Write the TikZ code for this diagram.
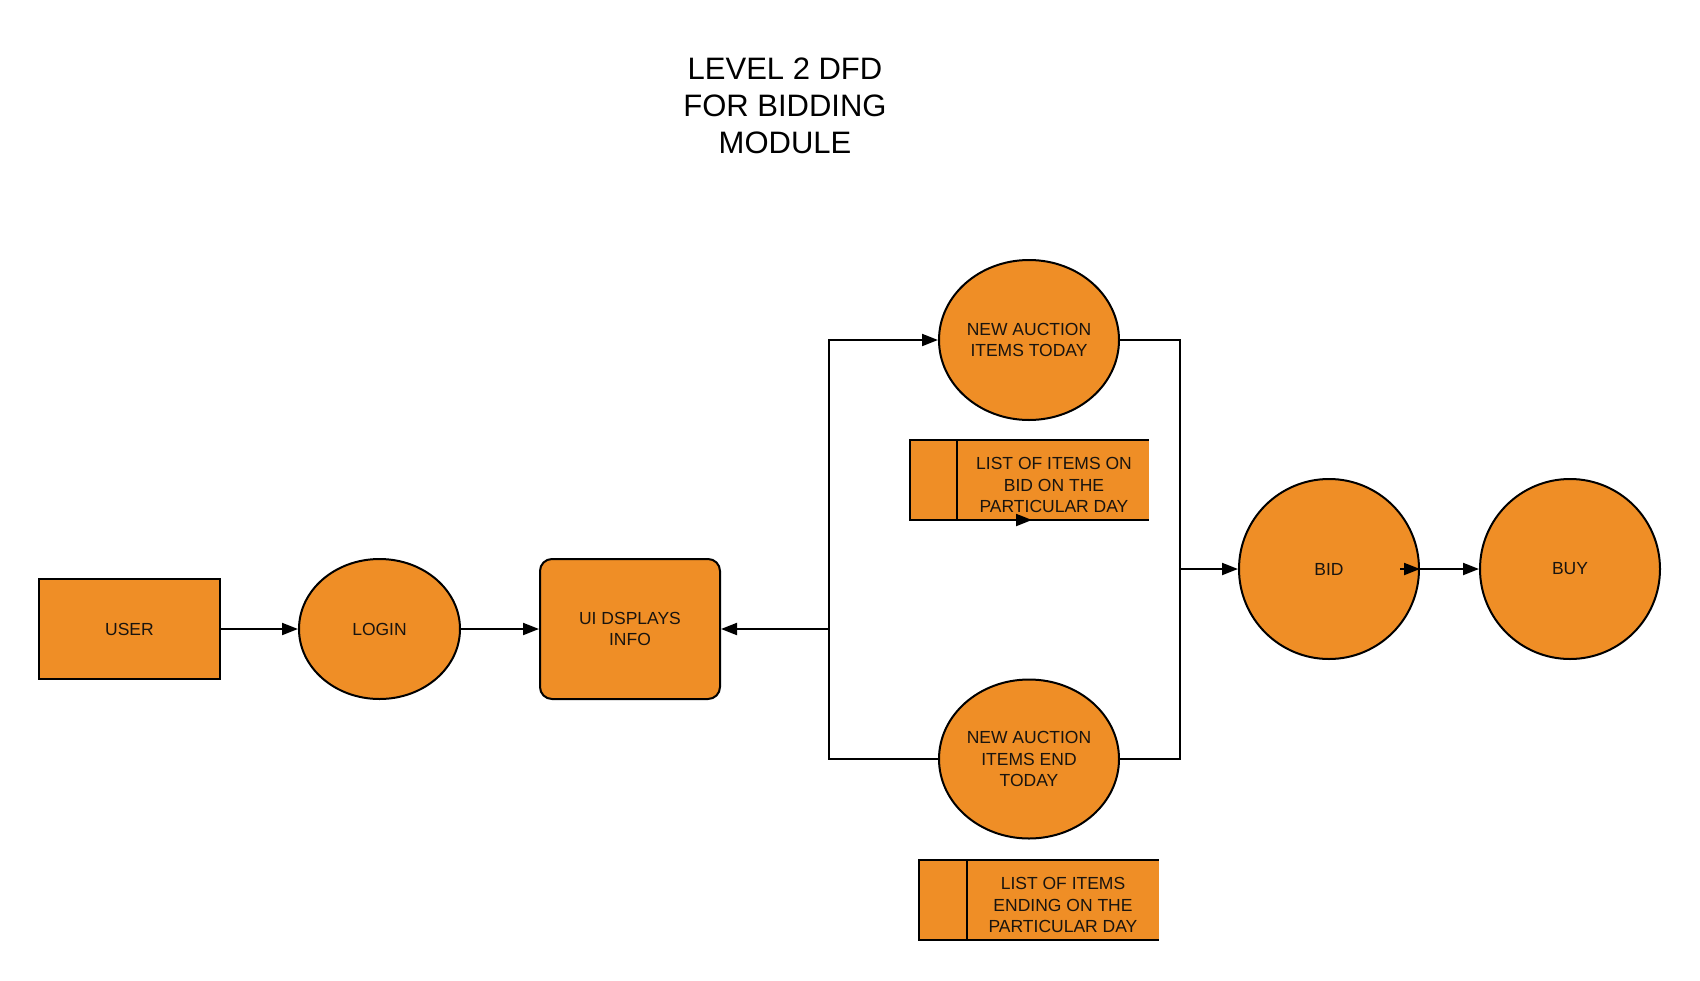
\documentclass[tikz,border=0pt]{standalone}
\usepackage{fontspec}
\setmainfont{Liberation Sans}
\usetikzlibrary{shapes.geometric,arrows.meta}
\definecolor{dfdorange}{RGB}{239,142,38}
\definecolor{dfdtext}{RGB}{25,20,15}
\tikzset{
  base/.style={fill=dfdorange, draw=black, line width=2pt, text=dfdtext, font=\fontsize{17.5}{21.5}\selectfont, align=center, inner sep=0pt},
  entitybox/.style={base, rectangle, minimum width=181pt, minimum height=100pt},
  procbox/.style={base, rectangle, rounded corners=12pt, minimum width=180pt, minimum height=140pt},
  procell/.style={base, ellipse},
  storefill/.style={fill=dfdorange, draw=none, rectangle, inner sep=0pt, minimum width=239pt, minimum height=80pt},
  storeline/.style={draw=black, line width=2pt},
  flow/.style={draw=black, line width=2pt, -{Triangle[length=16pt,width=12pt]}},
  plain/.style={draw=black, line width=2pt},
  label/.style={text=dfdtext, font=\fontsize{17.5}{21.5}\selectfont, align=center, inner sep=0pt},
  titletext/.style={text=black, font=\fontsize{31}{37}\selectfont, align=center, inner sep=0pt}
}
\begin{document}
\begin{tikzpicture}[x=1pt,y=-1pt]
\useasboundingbox (0,0) rectangle (1700,980);
\node[titletext] (title) at (785,106) {LEVEL 2 DFD\\FOR BIDDING\\MODULE};
\node[entitybox] (user) at (129.5,629) {USER};
\node[procell, minimum width=161pt, minimum height=140pt] (login) at (379.5,629) {LOGIN};
\node[procbox] (ui) at (630,629) {UI DSPLAYS\\INFO};
\node[procell, minimum width=180pt, minimum height=160pt] (na) at (1029,340) {NEW AUCTION\\ITEMS TODAY};
\node[procell, minimum width=180pt, minimum height=159pt] (ne) at (1029,759) {NEW AUCTION\\ITEMS END\\TODAY};
\node[procell, minimum width=180pt, minimum height=180pt] (bid) at (1329,569) {BID};
\node[procell, minimum width=180pt, minimum height=180pt] (buy) at (1570,569) {BUY};
% data stores
\node[storefill] (s1) at (1029.5,480) {};
\draw[storeline] (s1.north east) -- (s1.north west) -- (s1.south west) -- (s1.south east);
\coordinate (s1d) at (957,480);
\draw[storeline] (s1d |- s1.north) -- (s1d |- s1.south);
\node[label] (s1t) at (1054,485) {LIST OF ITEMS ON\\BID ON THE\\PARTICULAR DAY};
\node[storefill] (s2) at (1039,900) {};
\draw[storeline] (s2.north east) -- (s2.north west) -- (s2.south west) -- (s2.south east);
\coordinate (s2d) at (967,900);
\draw[storeline] (s2d |- s2.north) -- (s2d |- s2.south);
\node[label] (s2t) at (1063,905) {LIST OF ITEMS\\ENDING ON THE\\PARTICULAR DAY};
\coordinate (s1a) at (1010,520);
\coordinate (s1b) at (1032,520);
\draw[flow] (s1a) -- (s1b);
% connectors
\coordinate (jl) at (829,629);
\coordinate (jr) at (1180,569);
\draw[flow] (user.east) -- (login.west);
\draw[flow] (login.east) -- (ui.west);
\draw[flow] (jl) -- (ui.east);
\draw[flow] (jl) |- (na.west);
\draw[plain] (jl) |- (ne.west);
\draw[plain] (na.east) -| (jr);
\draw[plain] (ne.east) -| (jr);
\draw[flow] (jr) -- (bid.west);
\draw[flow] (bid.east) -- (buy.west);
\coordinate (bt) at (1400,569);
\draw[flow] (bt) -- (bid.east);
\end{tikzpicture}
\end{document}
